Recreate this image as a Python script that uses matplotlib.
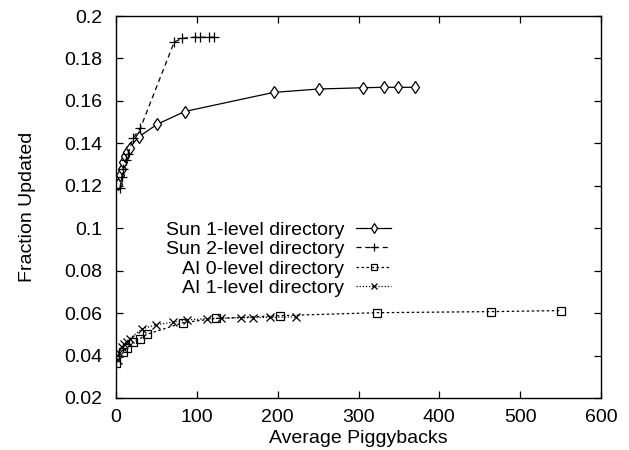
import matplotlib
matplotlib.use("Agg")
import matplotlib.pyplot as plt

plt.rcParams['font.family'] = ['Liberation Sans', 'DejaVu Sans']

# Sun traces
sun1_x = [3, 5, 7, 9, 11, 14, 17, 28, 51, 85, 195, 251, 306, 331, 349, 370]
sun1_y = [0.121, 0.125, 0.128, 0.131, 0.134, 0.136, 0.138, 0.143, 0.149, 0.155,
          0.164, 0.1656, 0.1662, 0.1664, 0.1664, 0.1664]

sun2_x = [5, 7, 9, 12, 15, 21, 30, 72, 82, 98, 104, 115, 121]
sun2_y = [0.119, 0.124, 0.128, 0.132, 0.135, 0.1425, 0.147, 0.1877, 0.1895,
          0.190, 0.190, 0.190, 0.190]

# AI traces
ai0_x = [0, 9, 14, 21, 30, 38, 83, 124, 203, 323, 464, 551]
ai0_y = [0.0365, 0.0417, 0.0437, 0.0462, 0.048, 0.050, 0.0555, 0.0575, 0.0588,
         0.0602, 0.0607, 0.0612]

ai1_x = [2, 4, 7, 10, 13, 17, 32, 49, 70, 88, 113, 130, 155, 170, 190, 223]
ai1_y = [0.038, 0.041, 0.044, 0.0455, 0.0465, 0.048, 0.0525, 0.0545, 0.0557,
         0.0568, 0.0574, 0.0576, 0.0578, 0.0579, 0.058, 0.0582]

labels = ["Sun 1-level directory", "Sun 2-level directory",
          "AI 0-level directory", "AI 1-level directory"]

x_ticks = [0, 100, 200, 300, 400, 500, 600]
y_ticks = [0.02, 0.04, 0.06, 0.08, 0.1, 0.12, 0.14, 0.16, 0.18, 0.2]
y_tick_labels = ["0.02", "0.04", "0.06", "0.08", "0.1", "0.12", "0.14", "0.16", "0.18", "0.2"]

W, H = 629, 450
fig = plt.figure(figsize=(W / 100, H / 100), dpi=100)
ax = fig.add_axes([116 / W, 1 - 398 / H, 485 / W, 382 / H])

lw = 0.9
ax.plot(sun1_x, sun1_y, color='black', lw=lw, ls='-', marker='d', ms=6,
        mfc='white', mec='black', mew=0.9, label=labels[0])
ax.plot(sun2_x, sun2_y, color='black', lw=lw, ls=(0, (4, 3)), marker='+', ms=7,
        mew=0.9, label=labels[1])
ax.plot(ai0_x, ai0_y, color='black', lw=lw, ls=(0, (2, 2)), marker='s', ms=6,
        mfc='none', mec='black', mew=0.9, label=labels[2])
ax.plot(ai1_x, ai1_y, color='black', lw=lw, ls=(0, (1, 1.5)), marker='x', ms=6,
        mew=0.9, label=labels[3])

ax.set_xlim(0, 600)
ax.set_ylim(0.02, 0.2)
ax.set_xticks(x_ticks)
ax.set_yticks(y_ticks)
ax.set_yticklabels(y_tick_labels)
ax.tick_params(direction='in', length=5, width=0.9, top=True, right=True,
               labelsize=14)
ax.tick_params(axis='y', pad=10)
ax.tick_params(axis='x', pad=8)
for s in ax.spines.values():
    s.set_linewidth(1.0)

ax.set_xlabel("Average Piggybacks", fontsize=14, labelpad=3)
ax.set_ylabel("Fraction Updated", fontsize=14, labelpad=20)

leg = ax.legend(loc='upper right', bbox_to_anchor=(391 / W, 1 - 221 / H),
                bbox_transform=fig.transFigure, frameon=False, markerfirst=False,
                fontsize=14, handlelength=1.8, handletextpad=0.6,
                labelspacing=0.1, borderpad=0, borderaxespad=0, numpoints=1,
                markerscale=0.8)

fig.savefig("out.png", dpi=100)
